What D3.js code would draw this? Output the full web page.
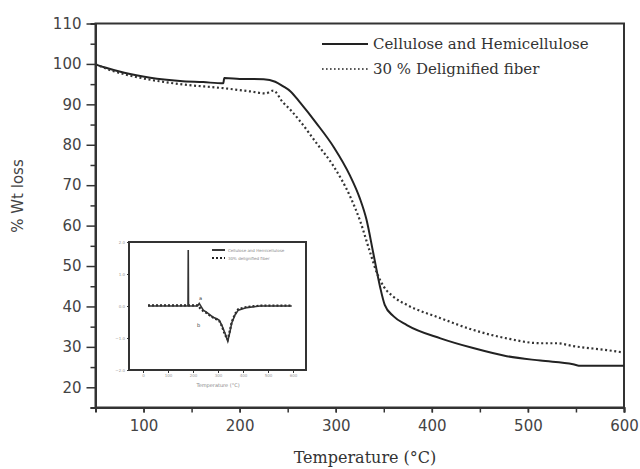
<!DOCTYPE html>
<meta charset="utf-8">
<style>
body { margin: 0; background: #fff; }
.axis path, .axis line { stroke: #333; }
.axis text { font: 15px "DejaVu Sans", sans-serif; fill: #444; }
.inset text { font: 4px "DejaVu Sans", sans-serif; fill: #888; }
.serif { font-family: "DejaVu Serif", serif; fill: #333; }
</style>
<svg width="640" height="469"></svg>
<script src="https://d3js.org/d3.v7.min.js"></script>
<script>

// main TGA curves: [temperature, % weight]
var cellulose = [[50, 99.9], [60, 99.1], [80, 97.8], [107, 96.6], [138, 95.8], [162, 95.5], [183, 95.2],
  [184, 96.5], [200, 96.3], [225, 96.2], [237, 95.6], [245, 94.5], [253, 93.2], [263, 90.4], [280, 85.3],
  [298, 79.4], [315, 72.3], [325, 66.8], [332, 61.5], [339, 53.3], [346, 45.0], [351, 40.4], [360, 37.6],
  [374, 35.4], [409, 32.1], [443, 29.7], [478, 27.7], [513, 26.6], [547, 25.7], [555, 25.3], [600, 25.3]];

var delignified = [[50, 99.9], [65, 98.5], [96, 96.6], [138, 95.0], [183, 94.0], [211, 93.2], [227, 92.7],
  [235, 93.4], [245, 90.5], [253, 88.6], [263, 85.8], [280, 80.4], [298, 74.6], [315, 67.2], [325, 61.4],
  [336, 53.2], [343, 48.2], [350, 44.9], [360, 42.4], [374, 40.4], [409, 37.1], [443, 34.2], [478, 32.1],
  [513, 30.9], [530, 30.9], [547, 30.2], [582, 29.2], [600, 28.6]];

// inset DTG curves
var dtgCellulose = [[20, 0], [180, 0], [181, 1.75], [182, 0], [218, 0], [225, 0.08], [241, -0.13], [255, -0.2],
  [268, -0.28], [280, -0.35], [295, -0.4], [305, -0.45], [315, -0.6], [328, -0.85], [339, -1.1], [348, -0.8],
  [355, -0.53], [368, -0.28], [381, -0.13], [415, -0.05], [468, 0], [595, 0]];
var dtgDelignified = [[20, 0.02], [218, 0.02], [226, -0.05], [241, -0.16], [255, -0.22], [268, -0.3], [280, -0.36],
  [295, -0.42], [305, -0.47], [315, -0.62], [328, -0.9], [339, -1.05], [348, -0.75], [355, -0.5], [368, -0.25],
  [381, -0.1], [415, -0.03], [468, 0.01], [595, 0.01]];

var xTicks = [100, 200, 300, 400, 500, 600];
var yTicks = [20, 30, 40, 50, 60, 70, 80, 90, 100, 110];
var insetXTicks = [0, 100, 200, 300, 400, 500, 600];
var insetYTicks = [-2, -1, 0, 1, 2];
var legendNames = ["Cellulose and Hemicellulose", "30 % Delignified fiber"];
var insetLegendNames = ["Cellulose and Hemicellulose", "30% delignified fiber"];

var svg = d3.select("svg");
svg.append("rect").attr("width", 640).attr("height", 469).attr("fill", "#fff");

var x = d3.scaleLinear().domain([50, 600]).range([95.5, 624]);
var y = d3.scaleLinear().domain([15, 110]).range([407.5, 23.5]);

// frame
svg.append("rect")
  .attr("x", x(50)).attr("y", y(110))
  .attr("width", x(600) - x(50)).attr("height", y(15) - y(110))
  .attr("fill", "none").attr("stroke", "#333").attr("stroke-width", 2);

// x axis: minor ticks every 50, labels every 100
svg.append("g").attr("class", "axis")
  .attr("transform", "translate(0," + y(15) + ")")
  .call(d3.axisBottom(x).tickValues(d3.range(100, 601, 50)).tickSize(5).tickFormat(""))
  .call(function(g) { g.select(".domain").attr("stroke-width", 2); g.selectAll("line").attr("stroke-width", 1.5); });
svg.append("g").attr("class", "axis")
  .attr("transform", "translate(0," + y(15) + ")")
  .call(d3.axisBottom(x).tickValues(xTicks).tickSize(5).tickPadding(8))
  .call(function(g) { g.select(".domain").remove(); g.selectAll("line").attr("stroke-width", 1.5); });

// y axis
svg.append("g").attr("class", "axis")
  .attr("transform", "translate(" + x(50) + ",0)")
  .call(d3.axisLeft(y).tickValues(d3.range(15, 111, 10)).tickSize(5).tickFormat(""))
  .call(function(g) { g.select(".domain").attr("stroke-width", 2); g.selectAll("line").attr("stroke-width", 1.5); });
svg.append("g").attr("class", "axis")
  .attr("transform", "translate(" + x(50) + ",0)")
  .call(d3.axisLeft(y).tickValues(yTicks).tickSize(9).tickPadding(5))
  .call(function(g) { g.select(".domain").remove(); g.selectAll("line").attr("stroke-width", 1.5); });

svg.append("text").attr("class", "serif")
  .attr("x", 365).attr("y", 463).attr("text-anchor", "middle")
  .style("font-size", "16px").text("Temperature (\u00b0C)");

svg.append("text")
  .attr("transform", "translate(23,196) rotate(-90)")
  .attr("text-anchor", "middle")
  .style("font", "15px 'DejaVu Sans', sans-serif").style("fill", "#444")
  .text("% Wt loss");

var line = d3.line().curve(d3.curveMonotoneX)
  .x(function(d) { return x(d[0]); }).y(function(d) { return y(d[1]); });

svg.append("path").datum(cellulose)
  .attr("d", line).attr("fill", "none").attr("stroke", "#222").attr("stroke-width", 2);
svg.append("path").datum(delignified)
  .attr("d", line).attr("fill", "none").attr("stroke", "#333")
  .attr("stroke-width", 2.2).attr("stroke-dasharray", "2,2.6");

// legend
var legend = svg.append("g");
legendNames.forEach(function(name, i) {
  var ly = 44 + i * 25;
  legend.append("line").attr("x1", 322).attr("x2", 368).attr("y1", ly).attr("y2", ly)
    .attr("stroke", "#222").attr("stroke-width", i ? 1.6 : 2)
    .attr("stroke-dasharray", i ? "1.6,2.4" : null);
  legend.append("text").attr("class", "serif")
    .attr("x", 373).attr("y", ly + 5).style("font-size", "15px").text(name);
});

// inset DTG plot
var inset = svg.append("g").attr("class", "inset");
var ix = d3.scaleLinear().domain([-56, 652]).range([129, 306]);
var iy = d3.scaleLinear().domain([-2, 2]).range([370, 242]);

inset.append("rect")
  .attr("x", ix(-56)).attr("y", iy(2))
  .attr("width", ix(652) - ix(-56)).attr("height", iy(-2) - iy(2))
  .attr("fill", "#fff").attr("stroke", "#333").attr("stroke-width", 2);

inset.append("g").attr("class", "axis")
  .attr("transform", "translate(0," + iy(-2) + ")")
  .call(d3.axisBottom(ix).tickValues(insetXTicks).tickSize(3).tickPadding(1))
  .call(function(g) { g.select(".domain").remove(); g.selectAll("line").attr("stroke", "#555"); })
  .selectAll("text").style("font-size", "4px").style("fill", "#999");
inset.append("g").attr("class", "axis")
  .attr("transform", "translate(" + ix(-56) + ",0)")
  .call(d3.axisLeft(iy).tickValues(insetYTicks).tickSize(2).tickPadding(2))
  .call(function(g) { g.select(".domain").remove(); g.selectAll("line").attr("stroke", "#555"); })
  .selectAll("text").style("font-size", "4px").style("fill", "#999");

inset.append("text").attr("x", 218).attr("y", 387).attr("text-anchor", "middle")
  .style("font-size", "5px").text("Temperature (\u00b0C)");

var iline = d3.line().x(function(d) { return ix(d[0]); }).y(function(d) { return iy(d[1]); });
inset.append("path").datum(dtgDelignified)
  .attr("d", iline).attr("fill", "none").attr("stroke", "#222")
  .attr("stroke-width", 2.2).attr("stroke-dasharray", "2,2");
inset.append("path").datum(dtgCellulose)
  .attr("d", iline).attr("fill", "none").attr("stroke", "#333").attr("stroke-width", 1.6);

insetLegendNames.forEach(function(name, i) {
  var ly = 250 + i * 8;
  inset.append("line").attr("x1", 212).attr("x2", 225).attr("y1", ly).attr("y2", ly)
    .attr("stroke", "#222").attr("stroke-width", 1.8)
    .attr("stroke-dasharray", i ? "2,2" : null);
  inset.append("text").attr("x", 228).attr("y", ly + 1.5).style("font-size", "4px").text(name);
});

inset.append("text").attr("x", 199).attr("y", 300).style("font-size", "5px").style("fill", "#333").text("a");
inset.append("text").attr("x", 197).attr("y", 327).style("font-size", "5px").style("fill", "#333").text("b");

</script>
